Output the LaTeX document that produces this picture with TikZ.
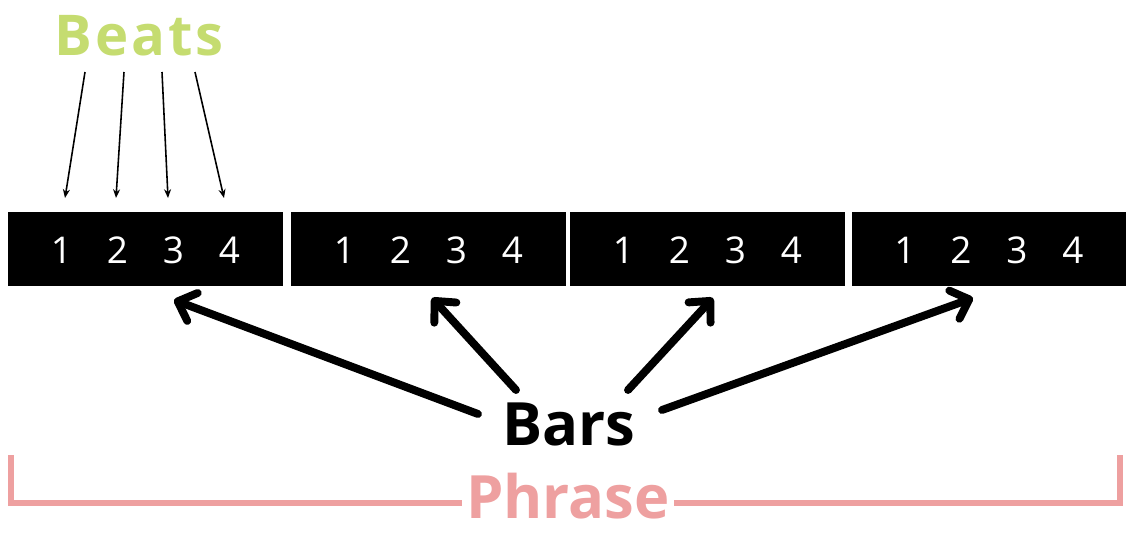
\documentclass[tikz,border=0pt]{standalone}
\usepackage{fontspec}
\setmainfont{Open Sans}
\usepackage{tikz}
\usetikzlibrary{arrows.meta, positioning}
\definecolor{colorBeats}{RGB}{197,220,112}
\definecolor{colorPhrase}{RGB}{238,160,160}
\tikzset{
  bar/.style={fill=black, minimum width=5.5cm, minimum height=1.48cm, inner sep=0pt},
  beat/.style={text=white, font=\fontsize{21}{21}\selectfont, inner sep=0pt},
  thinarrow/.style={-{Stealth[length=5pt, width=4pt]}, line width=0.9pt},
  bararrow/.style={-{Straight Barb[length=9pt, width=17pt, round]}, line width=4.5pt, line cap=round}
}

\begin{document}
\begin{tikzpicture}[x=0.02cm, y=-0.02cm]
\useasboundingbox (0,0) rectangle (1127,534);
% bars with four beats each
\foreach \i/\cx in {1/145.5, 2/428.5, 3/707.5, 4/989} {
  \node[bar] (bar\i) at (\cx,249) {};
  \foreach \d in {1,2,3,4}
    \node[beat] (n\i\d) at ({\cx+(\d-2.5)*56},250) {\d};
}
% labels
\node[text=colorBeats, font=\bfseries\fontsize{32}{32}\selectfont\addfontfeature{LetterSpace=5}] (beats) at (139,36) {Beats};
\node[font=\bfseries\fontsize{34}{34}\selectfont] (bars) at (569,424) {Bars};
\node[text=colorPhrase, font=\bfseries\fontsize{34}{34}\selectfont, inner xsep=2pt, inner ysep=0pt] (phrase) at (568,496) {Phrase};
% beat arrows
\coordinate (bs1) at (85,72);  \coordinate (be1) at (65,198);
\coordinate (bs2) at (124,72); \coordinate (be2) at (116,198);
\coordinate (bs3) at (162,72); \coordinate (be3) at (168,198);
\coordinate (bs4) at (195,72); \coordinate (be4) at (224,198);
\foreach \k in {1,2,3,4}
  \draw[thinarrow] (bs\k) -- (be\k);
% bar arrows
\coordinate (rs1) at (478,414); \coordinate (re1) at (174,300);
\coordinate (rs2) at (516,390); \coordinate (re2) at (432,298);
\coordinate (rs3) at (628,390); \coordinate (re3) at (713,298);
\coordinate (rs4) at (662,410); \coordinate (re4) at (973,298);
\foreach \k in {1,2,3,4}
  \draw[bararrow] (rs\k) -- (re\k);
% phrase bracket
\coordinate (pl) at (11,455);
\coordinate (pr) at (1120,455);
\draw[colorPhrase, line width=3pt] (pl) |- ([yshift=-4pt]phrase.west);
\draw[colorPhrase, line width=3pt] ([yshift=-4pt]phrase.east) -| (pr);
\end{tikzpicture}
\end{document}
